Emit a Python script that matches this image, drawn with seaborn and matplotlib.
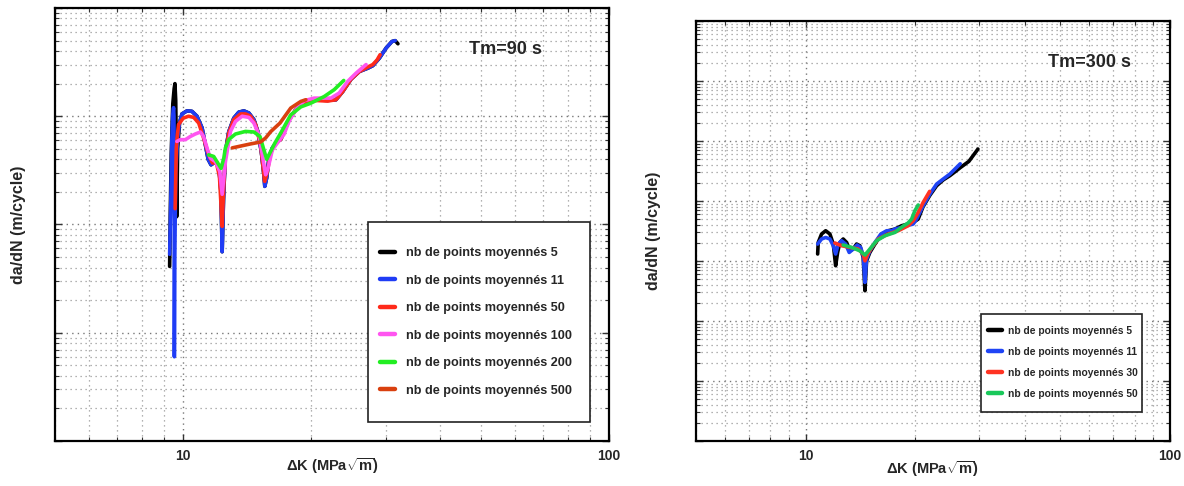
import numpy as np
import pandas as pd
import matplotlib
matplotlib.use("Agg")
import matplotlib.pyplot as plt
import seaborn as sns
from matplotlib.patches import Rectangle
from matplotlib.ticker import NullFormatter, LogLocator

# ---- Tm = 90 s : dK (MPa sqrt m), da/dN in 1e-6 m/cycle ----
labels_90 = ["nb de points moyennés 5", "nb de points moyennés 11",
             "nb de points moyennés 50", "nb de points moyennés 100",
             "nb de points moyennés 200", "nb de points moyennés 500"]
colors_90 = ["#000000", "#1f3cf5", "#ff2a1a", "#ff55f0", "#22ee22", "#d9400f"]

n5_dk = [9.29, 9.32, 9.37, 9.45, 9.52, 9.56, 9.60, 9.63, 9.65, 9.70, 9.80, 9.93, 10.20, 10.48,
         10.77, 11.07, 11.27, 11.44, 11.62, 11.79, 11.96, 12.13, 12.26, 12.34, 12.43, 12.56,
         12.79, 13.14, 13.50, 13.88, 14.26, 14.65, 14.97, 15.25, 15.46, 15.54, 15.70, 15.89,
         16.19, 16.63, 16.94, 17.72, 18.37, 19.21, 20.29, 21.82, 22.83, 23.68, 24.77, 25.91,
         27.12, 27.86, 28.89, 29.95, 30.9, 31.45, 31.92]
n5_da = [0.041, 0.12, 0.45, 1.3, 1.8, 2.0, 1.4, 0.5, 0.118, 0.5, 0.87, 1.05, 1.12, 1.11,
         1.00, 0.78, 0.545, 0.40, 0.356, 0.37, 0.38, 0.33, 0.20, 0.056, 0.17, 0.47,
         0.72, 0.96, 1.09, 1.12, 1.07, 0.93, 0.72, 0.47, 0.29, 0.225, 0.27, 0.41,
         0.51, 0.585, 0.61, 0.93, 1.15, 1.34, 1.42, 1.40, 1.42, 1.69, 2.2, 2.59,
         2.78, 2.93, 3.45, 4.27, 4.9, 4.99, 4.67]

n11_dk = [9.29, 9.35, 9.40, 9.45, 9.49, 9.51, 9.52, 9.53, 9.55, 9.60, 9.70, 9.80, 9.93, 10.20,
          10.48, 10.77, 11.07, 11.27, 11.44, 11.62, 11.79, 11.96, 12.13, 12.26, 12.34, 12.43,
          12.56, 12.79, 13.14, 13.50, 13.88, 14.26, 14.65, 14.97, 15.25, 15.46, 15.54, 15.70,
          15.89, 16.19, 16.63, 16.94, 17.72, 18.37, 19.21, 20.29, 21.82, 22.83, 23.68, 24.77,
          25.91, 27.12, 27.86, 28.89, 29.95, 30.9, 31.45]
n11_da = [0.053, 0.17, 0.61, 1.05, 1.20, 1.0, 0.30, 0.006, 0.05, 0.30, 0.62, 0.87, 1.05, 1.12,
          1.11, 1.00, 0.78, 0.545, 0.40, 0.356, 0.37, 0.38, 0.33, 0.20, 0.056, 0.17,
          0.47, 0.72, 0.96, 1.09, 1.12, 1.07, 0.93, 0.72, 0.47, 0.29, 0.225, 0.27,
          0.41, 0.51, 0.585, 0.61, 0.93, 1.15, 1.34, 1.42, 1.40, 1.42, 1.69, 2.2,
          2.59, 2.78, 2.93, 3.45, 4.27, 4.9, 4.99]

n50_dk = [9.57, 9.63, 9.69, 9.75, 10.0, 10.29, 10.58, 10.87, 11.16, 11.47, 11.71, 11.96, 12.16,
          12.34, 12.43, 12.56, 12.79, 13.14, 13.63, 14.00, 14.39, 14.79, 15.19, 15.53, 15.76,
          16.04, 16.48, 16.94, 17.72, 18.37, 19.21, 20.29, 21.82, 22.83, 23.68, 24.77, 25.91,
          27.12, 27.86, 28.5, 28.98]
n50_da = [0.14, 0.51, 0.68, 0.84, 0.96, 1.0, 0.975, 0.865, 0.63, 0.44, 0.37, 0.37, 0.28,
          0.096, 0.2, 0.45, 0.70, 0.93, 1.05, 1.05, 1.0, 0.835, 0.545, 0.25, 0.31,
          0.457, 0.565, 0.61, 0.93, 1.15, 1.32, 1.40, 1.38, 1.42, 1.69, 2.2, 2.59,
          2.85, 3.0, 3.3, 3.7]

n100_dk = [9.66, 9.84, 10.11, 10.39, 10.67, 10.97, 11.16, 11.37, 11.58, 11.90, 12.18, 12.34,
           12.56, 12.91, 13.26, 13.75, 14.26, 14.65, 15.05, 15.33, 15.61, 15.81, 16.19, 16.63,
           17.24, 17.72, 18.37, 19.21, 20.29, 22.22, 23.24, 24.33, 25.45, 26.87]
n100_da = [0.585, 0.607, 0.607, 0.65, 0.685, 0.715, 0.65, 0.51, 0.41, 0.38, 0.31, 0.19,
           0.38, 0.724, 0.895, 1.0, 0.975, 0.865, 0.675, 0.44, 0.288, 0.33, 0.49, 0.565,
           0.68, 0.9, 1.15, 1.39, 1.47, 1.47, 1.64, 2.1, 2.5, 3.0]

n200_dk = [11.47, 11.79, 12.05, 12.27, 12.45, 12.56, 12.79, 13.26, 14.0, 14.65, 15.14, 15.46,
           15.70, 15.97, 16.39, 16.94, 17.88, 18.88, 19.93, 21.42, 22.62, 23.81]
n200_da = [0.44, 0.425, 0.37, 0.33, 0.41, 0.51, 0.61, 0.685, 0.724, 0.715, 0.65, 0.49,
           0.40, 0.457, 0.56, 0.70, 1.03, 1.22, 1.32, 1.52, 1.76, 2.14]

n500_dk = [13.03, 13.63, 14.39, 15.19, 15.61, 16.04, 16.87, 17.88, 18.88, 19.4]
n500_da = [0.51, 0.53, 0.555, 0.578, 0.63, 0.72, 0.865, 1.19, 1.37, 1.42]

# ---- Tm = 300 s : dK (MPa sqrt m), da/dN in 1e-9 m/cycle ----
labels_300 = ["nb de points moyennés 5", "nb de points moyennés 11",
              "nb de points moyennés 30", "nb de points moyennés 50"]
colors_300 = ["#000000", "#1f44f5", "#ff3322", "#19c85a"]

m5_dk = [10.79, 10.83, 11.06, 11.35, 11.66, 11.91, 12.09, 12.24, 12.42, 12.68, 12.96, 13.23,
         13.51, 13.80, 14.09, 14.39, 14.55, 14.70, 15.01, 15.50, 16.17, 16.86, 17.58, 18.35,
         19.12, 19.74, 20.37, 21.0, 21.94, 22.89, 23.86, 24.89, 25.82, 26.57, 28.07, 29.72]
m5_da = [1.31, 2.04, 2.82, 3.20, 2.82, 1.92, 0.835, 1.39, 2.04, 2.33, 2.04, 1.48,
         1.585, 1.92, 1.80, 1.15, 0.32, 1.01, 1.39, 1.92, 2.82, 3.20, 3.41, 3.88,
         4.14, 4.40, 5.01, 8.0, 12.5, 18.0, 22.5, 26.5, 31.4, 36.0, 45.9, 73.6]

m11_dk = [10.79, 11.06, 11.35, 11.66, 11.91, 12.09, 12.29, 12.55, 12.88, 13.17, 13.51, 13.85,
          14.16, 14.39, 14.55, 14.70, 15.01, 15.50, 16.09, 16.69, 17.22, 17.58, 18.35, 18.93,
          19.74, 20.17, 21.02, 21.94, 22.89, 23.86, 24.89, 26.24, 26.57]
m11_da = [1.92, 2.33, 2.47, 2.33, 1.80, 1.31, 1.92, 2.18, 1.92, 1.39, 1.585, 1.85,
          1.69, 1.23, 0.44, 1.08, 1.48, 2.04, 2.82, 3.20, 3.20, 3.41, 3.63, 3.88,
          4.14, 5.01, 8.35, 13.1, 19.2, 23.3, 28.2, 38.7, 41.8]

m30_dk = [12.03, 12.55, 13.23, 13.94, 14.39, 14.55, 14.80, 15.18, 15.82, 16.86, 17.96, 19.12,
          19.74, 20.37, 21.02, 21.9]
m30_da = [2.00, 1.80, 1.69, 1.585, 1.31, 1.01, 1.31, 1.69, 2.33, 2.82, 3.20, 3.88,
          4.69, 6.46, 9.48, 14.5]

m50_dk = [12.68, 13.37, 14.09, 14.55, 15.01, 15.66, 16.51, 17.58, 18.5, 19.1, 19.54, 19.95, 20.38]
m50_da = [1.85, 1.69, 1.48, 1.26, 1.585, 2.18, 2.64, 3.00, 3.8, 4.3, 5.0, 6.9, 8.6]


def build_frame(labels, dks, das, unit):
    parts = []
    for lab, dk, da in zip(labels, dks, das):
        parts.append(pd.DataFrame({"dK": dk, "dadN": np.array(da) * unit, "serie": lab}))
    return pd.concat(parts, ignore_index=True)


df90 = build_frame(labels_90, [n5_dk, n11_dk, n50_dk, n100_dk, n200_dk, n500_dk],
                   [n5_da, n11_da, n50_da, n100_da, n200_da, n500_da], 1e-6)
df300 = build_frame(labels_300, [m5_dk, m11_dk, m30_dk, m50_dk],
                    [m5_da, m11_da, m30_da, m50_da], 1e-9)

sns.set_style("ticks")
fam = ["Liberation Sans", "DejaVu Sans"]
plt.rcParams["font.family"] = fam
plt.rcParams["mathtext.fontset"] = "custom"
plt.rcParams["mathtext.rm"] = "Liberation Sans:bold"
plt.rcParams["mathtext.bf"] = "Liberation Sans:bold"
plt.rcParams["mathtext.it"] = "Liberation Sans:bold"

fig = plt.figure(figsize=(11.84, 4.86), dpi=100)
ax1 = fig.add_axes([0.0465, 0.0926, 0.468, 0.891])
ax2 = fig.add_axes([0.5878, 0.0926, 0.4003, 0.864])


def draw_panel(ax, df, labels, colors, ylim, title, title_xy, frame_box, leg_at, leg_size,
               leg_space, hlen, hpad, ylab_x, xlab_y):
    pal = dict(zip(labels, colors))
    sns.lineplot(data=df, x="dK", y="dadN", hue="serie", hue_order=labels, palette=pal,
                 sort=False, estimator=None, linewidth=2.6, ax=ax)
    ax.set_xscale("log")
    ax.set_yscale("log")
    ax.set_xlim(5, 100)
    ax.set_ylim(*ylim)

    ax.set_xticks([10, 100])
    ax.set_xticklabels(["10", "100"], fontweight="bold", fontsize=10)
    ax.xaxis.set_minor_locator(LogLocator(base=10, subs=np.arange(2, 10), numticks=20))
    ax.xaxis.set_minor_formatter(NullFormatter())
    ax.yaxis.set_major_locator(LogLocator(base=10, numticks=20))
    ax.yaxis.set_minor_locator(LogLocator(base=10, subs=np.arange(2, 10), numticks=20))
    ax.yaxis.set_major_formatter(NullFormatter())
    ax.yaxis.set_minor_formatter(NullFormatter())

    ax.tick_params(which="both", direction="in", top=True, right=True, color="#333333")
    ax.tick_params(which="major", length=5, width=1, pad=6)
    ax.tick_params(which="minor", length=3, width=0.8)
    ax.grid(True, which="major", ls=(0, (1, 3)), color="#777777", lw=1.0)
    ax.grid(True, which="minor", ls=(0, (1, 3)), color="#999999", lw=0.9)
    for sp in ax.spines.values():
        sp.set_linewidth(1.6)
        sp.set_color("black")

    ax.set_xlabel(r"ΔK (MPa$\sqrt{\mathrm{m}}$)", fontweight="bold", fontsize=10.5)
    ax.set_ylabel("da/dN (m/cycle)", fontweight="bold", fontsize=11.5)
    ax.yaxis.set_label_coords(ylab_x, 0.5)
    ax.xaxis.set_label_coords(0.5, xlab_y)

    ax.text(title_xy[0], title_xy[1], title, transform=ax.transAxes, ha="center", va="center",
            fontsize=13, fontweight="bold")

    # legend frame drawn separately so that its padding matches the original box
    ax.add_patch(Rectangle(frame_box[:2], frame_box[2], frame_box[3], transform=ax.transAxes,
                           facecolor="white", edgecolor="#222222", lw=1.2, zorder=4.5))
    handles, labs = ax.get_legend_handles_labels()
    leg = ax.legend(handles, labs, loc="upper left", bbox_to_anchor=leg_at,
                    prop={"weight": "bold", "size": leg_size}, frameon=False,
                    handlelength=hlen, handletextpad=hpad, labelspacing=leg_space,
                    borderpad=0, borderaxespad=0)
    leg.set_zorder(6)
    for ln in leg.get_lines():
        ln.set_linewidth(3.2)


draw_panel(ax1, df90, labels_90, colors_90, (1e-9, 1e-5), "Tm=90 s", (0.812, 0.903),
           (0.565, 0.044, 0.401, 0.462), (0.587, 0.448), 9.1, 1.23, 1.2, 0.87, -0.052, -0.035)
draw_panel(ax2, df300, labels_300, colors_300, (1e-12, 1e-5), "Tm=300 s", (0.831, 0.902),
           (0.601, 0.069, 0.340, 0.233), (0.617, 0.274), 7.4, 1.06, 1.3, 0.6, -0.074, -0.042)

fig.savefig("out.png", dpi=100)
